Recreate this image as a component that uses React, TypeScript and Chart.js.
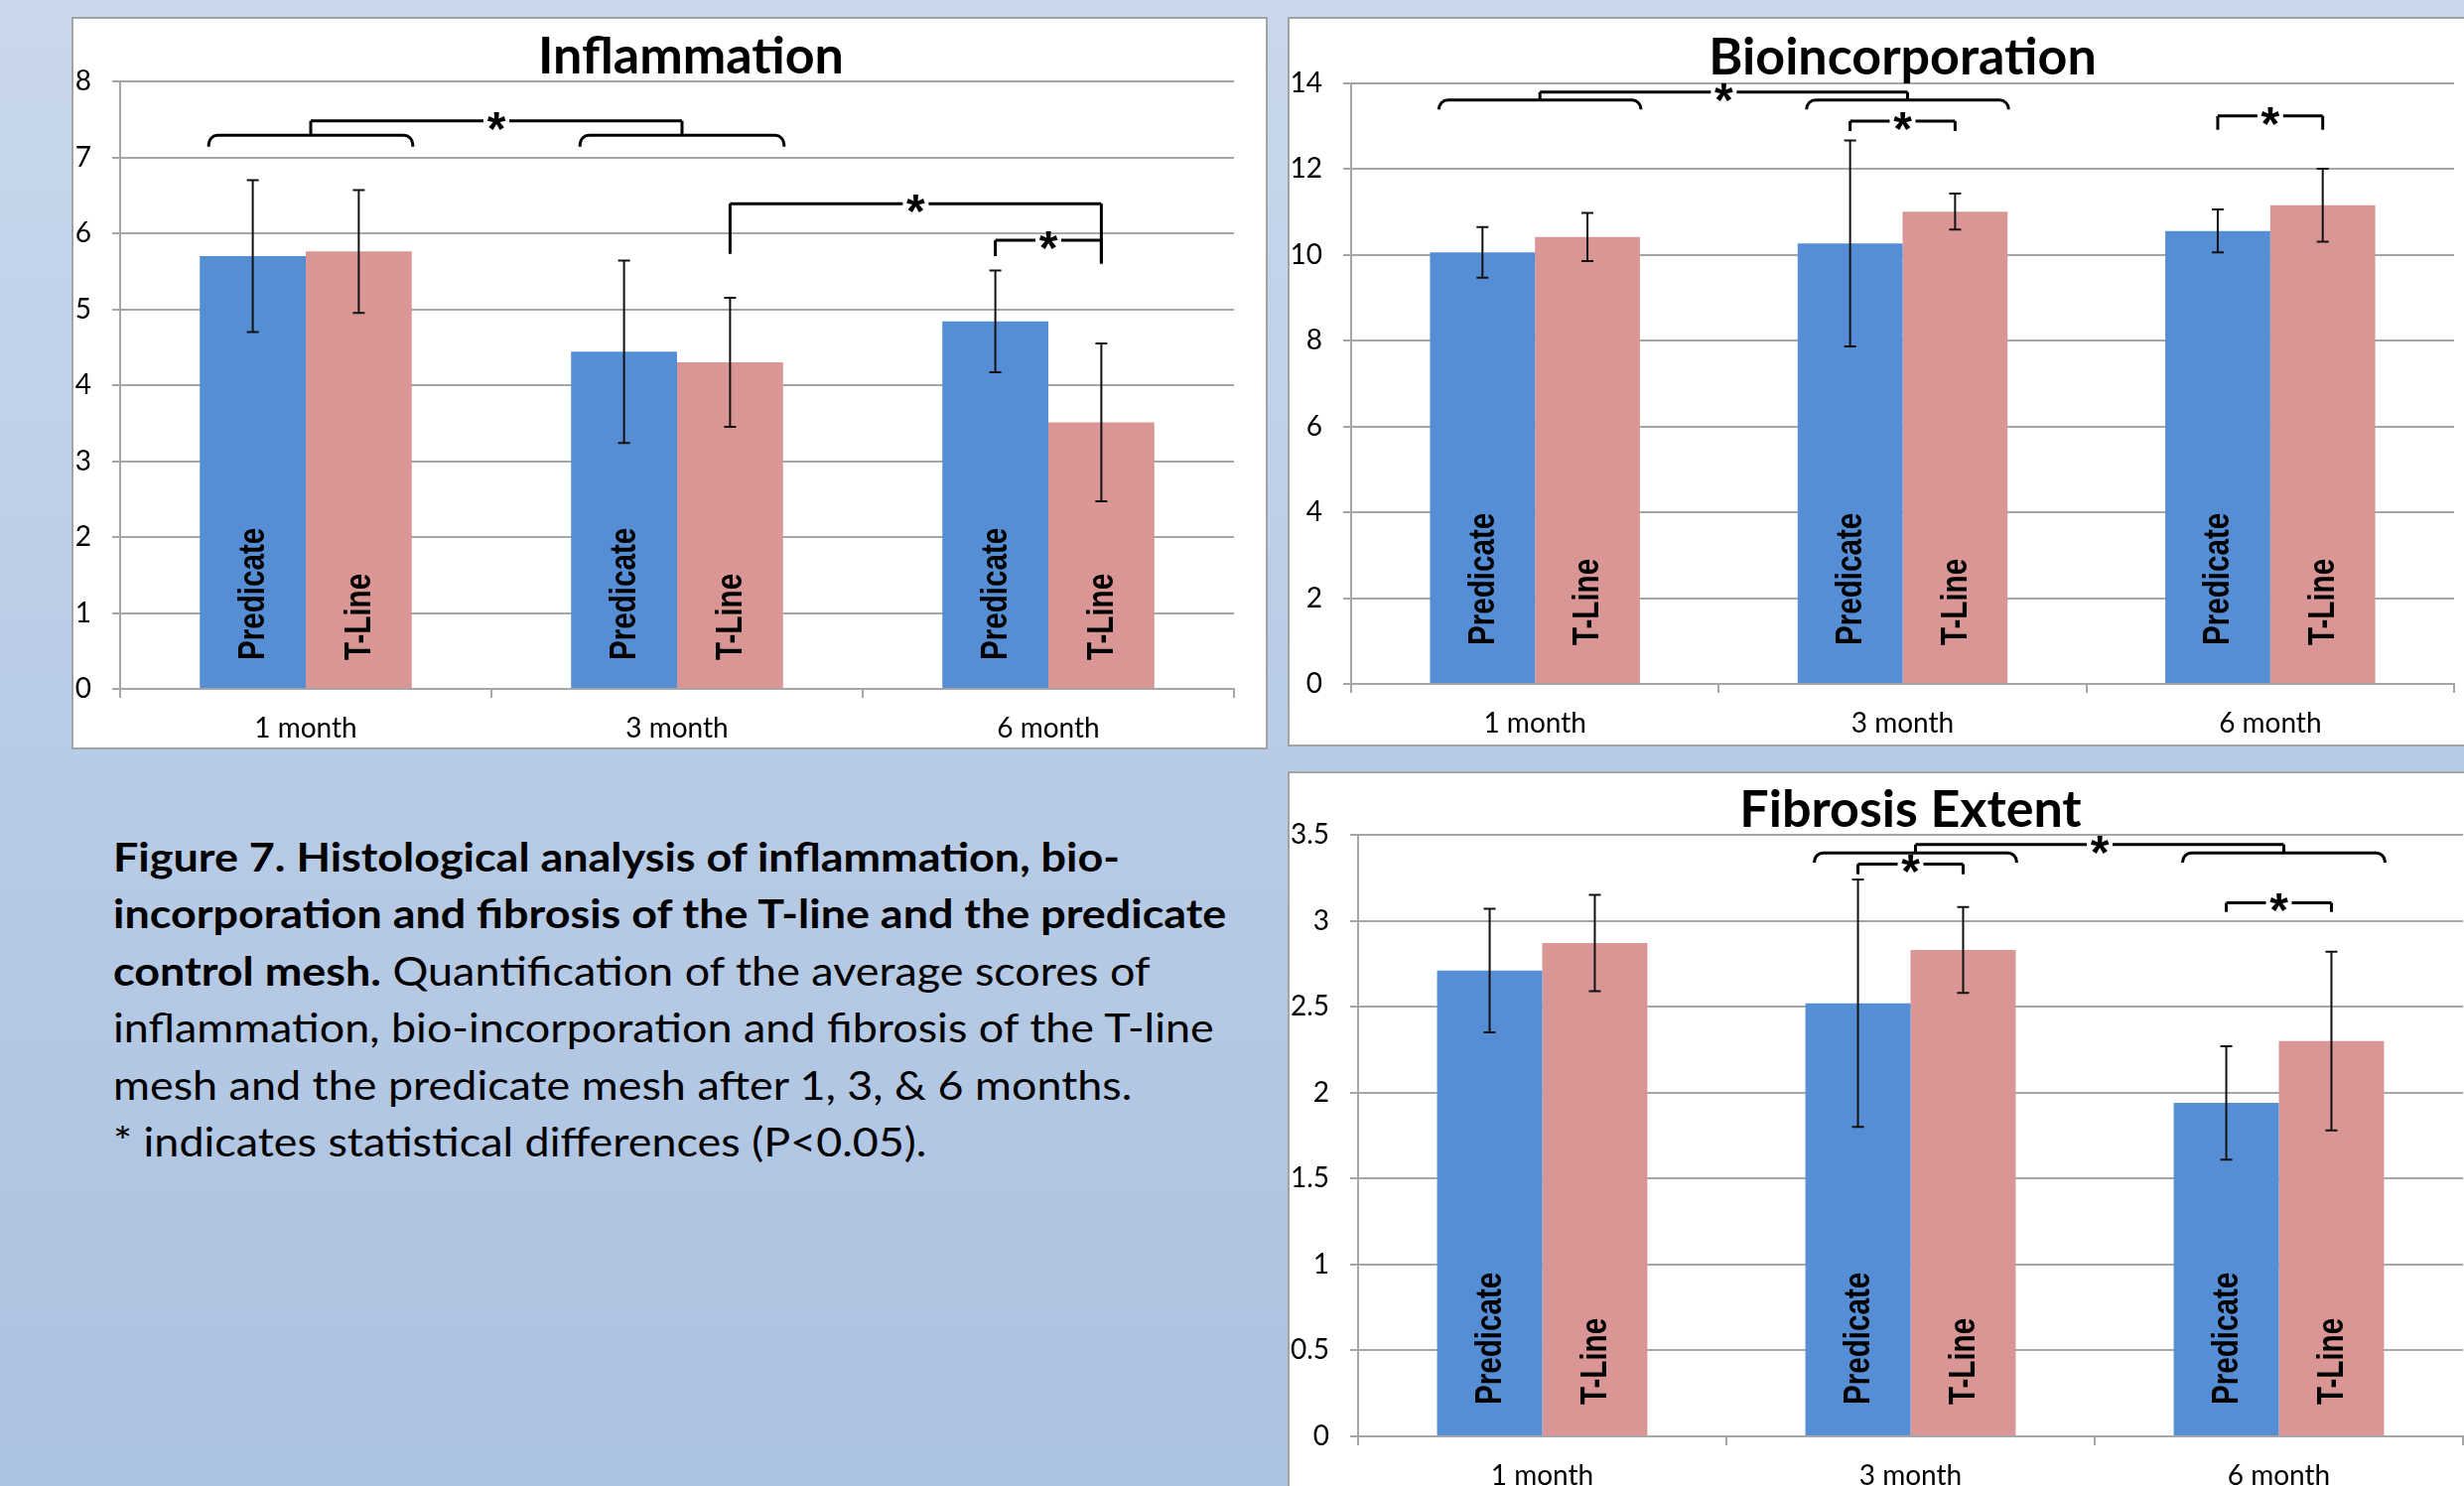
import React, { useEffect, useRef } from 'react';
import { Chart, registerables } from 'chart.js';

Chart.register(...registerables);

// ---------------- data ----------------
const categories = ['1 month', '3 month', '6 month'];
const seriesNames = ['Predicate', 'T-Line'];
const seriesColors = ['#558ED5', '#D99694'];

const inflammationPredicate = [5.7, 4.44, 4.84];
const inflammationPredicateErr = [1.0, 1.2, 0.67];
const inflammationTLine = [5.76, 4.3, 3.51];
const inflammationTLineErr = [0.81, 0.85, 1.04];
const inflammationTicks = [0, 1, 2, 3, 4, 5, 6, 7, 8];

const bioPredicate = [10.06, 10.27, 10.56];
const bioPredicateErr = [0.59, 2.4, 0.5];
const bioTLine = [10.42, 11.01, 11.16];
const bioTLineErr = [0.56, 0.42, 0.85];
const bioTicks = [0, 2, 4, 6, 8, 10, 12, 14];

const fibPredicate = [2.71, 2.52, 1.94];
const fibPredicateErr = [0.36, 0.72, 0.33];
const fibTLine = [2.87, 2.83, 2.3];
const fibTLineErr = [0.28, 0.25, 0.52];
const fibTicks = [0, 0.5, 1, 1.5, 2, 2.5, 3, 3.5];

// significance marks (data coordinates): braces over a category, links between braces, pair brackets between bars
const inflammationBraces = [{ cat: 0, y: 7.29, yEnd: 7.14 }, { cat: 1, y: 7.29, yEnd: 7.14 }];
const inflammationLinks = [{ from: 0, to: 1, y: 7.48 }];
const inflammationPairs = [
  { a: [1, 1], b: [2, 1], y: 6.39, aEnd: 5.73, bEnd: 5.6 },
  { a: [2, 0], b: [2, 1], y: 5.91, aEnd: 5.7, bEnd: 5.6 },
];

const bioBraces = [{ cat: 0, y: 13.61, yEnd: 13.39 }, { cat: 1, y: 13.61, yEnd: 13.39 }];
const bioLinks = [{ from: 0, to: 1, y: 13.8 }];
const bioPairs = [
  { a: [1, 0], b: [1, 1], y: 13.12, aEnd: 12.89, bEnd: 12.89 },
  { a: [2, 0], b: [2, 1], y: 13.24, aEnd: 12.92, bEnd: 12.92 },
];

const fibBraces = [{ cat: 1, y: 3.395, yEnd: 3.338 }, { cat: 2, y: 3.395, yEnd: 3.338 }];
const fibLinks = [{ from: 0, to: 1, y: 3.444 }];
const fibPairs = [
  { a: [1, 0], b: [1, 1], y: 3.33, aEnd: 3.27, bEnd: 3.27 },
  { a: [2, 0], b: [2, 1], y: 3.105, aEnd: 3.051, bEnd: 3.051 },
];

const captionBold = [
  'Figure 7. Histological analysis of inflammation, bio-',
  'incorporation and fibrosis of the T-line and the predicate',
  'control mesh.',
];
const captionPlain = [
  ' Quantification of the average scores of',
  'inflammation, bio-incorporation and fibrosis of the T-line',
  'mesh and the predicate mesh after 1, 3, & 6 months.',
  '* indicates statistical differences (P<0.05).',
];

// ---------------- chart configs ----------------
const panels = [
  {
    key: 'infl',
    title: 'Inflammation',
    pred: inflammationPredicate, predErr: inflammationPredicateErr,
    tl: inflammationTLine, tlErr: inflammationTLineErr,
    ticks: inflammationTicks,
    braces: inflammationBraces, links: inflammationLinks, pairs: inflammationPairs,
    box: { left: 72, top: 17, width: 1205, height: 738 },
    canvas: { width: 1201, height: 734 },
    padTop: 63, padRight: 32, axisWidth: 47, xAxisHeight: 59,
    titleBaseline: 55, titleDx: 14, labelOffset: 28,
  },
  {
    key: 'bio',
    title: 'Bioincorporation',
    pred: bioPredicate, predErr: bioPredicateErr,
    tl: bioTLine, tlErr: bioTLineErr,
    ticks: bioTicks,
    braces: bioBraces, links: bioLinks, pairs: bioPairs,
    box: { left: 1297, top: 17, width: 1200, height: 735 },
    canvas: { width: 1196, height: 731 },
    padTop: 65, padRight: 23, axisWidth: 62, xAxisHeight: 61,
    titleBaseline: 56, titleDx: 0, labelOffset: 38,
  },
  {
    key: 'fib',
    title: 'Fibrosis Extent',
    pred: fibPredicate, predErr: fibPredicateErr,
    tl: fibTLine, tlErr: fibTLineErr,
    ticks: fibTicks,
    braces: fibBraces, links: fibLinks, pairs: fibPairs,
    box: { left: 1297, top: 777, width: 1200, height: 740 },
    canvas: { width: 1196, height: 728 },
    padTop: 62, padRight: 14, axisWidth: 69, xAxisHeight: 60,
    titleBaseline: 54, titleDx: 0, labelOffset: 31,
  },
];

const GRID = '#a6a6a6';
const FONT = 'Lato, "Open Sans", sans-serif';

function drawStar(ctx: CanvasRenderingContext2D, x: number, yLine: number) {
  ctx.save();
  ctx.font = 'bold 48px "Liberation Sans", Arial, sans-serif';
  ctx.textAlign = 'center';
  ctx.textBaseline = 'alphabetic';
  const m = ctx.measureText('*');
  const asc = m.actualBoundingBoxAscent;
  const desc = m.actualBoundingBoxDescent;
  ctx.fillStyle = '#000';
  ctx.fillText('*', x, yLine + (asc - desc) / 2);
  ctx.restore();
}

function hLineWithStar(ctx: CanvasRenderingContext2D, x1: number, x2: number, y: number) {
  const mid = (x1 + x2) / 2;
  const gap = 13;
  ctx.beginPath();
  ctx.moveTo(x1, y);
  ctx.lineTo(mid - gap, y);
  ctx.moveTo(mid + gap, y);
  ctx.lineTo(x2, y);
  ctx.stroke();
  drawStar(ctx, mid, y);
}

function makePlugin(p: any) {
  return {
    id: 'extras_' + p.key,
    afterDatasetsDraw(chart: any) {
      const ctx: CanvasRenderingContext2D = chart.ctx;
      const ys = chart.scales.y;
      const values = [p.pred, p.tl];
      const errs = [p.predErr, p.tlErr];
      ctx.save();

      // in-bar rotated labels
      ctx.fillStyle = '#000';
      ctx.font = 'bold 37px "Liberation Sans", Arial, sans-serif';
      ctx.textAlign = 'left';
      ctx.textBaseline = 'middle';
      for (let d = 0; d < 2; d++) {
        const meta = chart.getDatasetMeta(d);
        meta.data.forEach((bar: any) => {
          ctx.save();
          ctx.translate(bar.x, bar.base - p.labelOffset);
          ctx.rotate(-Math.PI / 2);
          ctx.scale(0.8, 1);
          ctx.fillText(seriesNames[d], 0, 1);
          ctx.restore();
        });
      }

      // error bars
      ctx.strokeStyle = '#111';
      ctx.lineWidth = 2;
      for (let d = 0; d < 2; d++) {
        const meta = chart.getDatasetMeta(d);
        meta.data.forEach((bar: any, i: number) => {
          const v = values[d][i];
          const e = errs[d][i];
          const yt = ys.getPixelForValue(v + e);
          const yb = ys.getPixelForValue(v - e);
          ctx.beginPath();
          ctx.moveTo(bar.x, yt);
          ctx.lineTo(bar.x, yb);
          ctx.moveTo(bar.x - 6, yt);
          ctx.lineTo(bar.x + 6, yt);
          ctx.moveTo(bar.x - 6, yb);
          ctx.lineTo(bar.x + 6, yb);
          ctx.stroke();
        });
      }

      // significance brackets
      ctx.strokeStyle = '#000';
      ctx.lineWidth = 3;
      ctx.lineJoin = 'miter';
      const barAt = (cat: number, d: number) => chart.getDatasetMeta(d).data[cat];
      const braceCenters: { x: number; y: number }[] = [];
      p.braces.forEach((b: any) => {
        const pb = barAt(b.cat, 0);
        const tb = barAt(b.cat, 1);
        const x1 = pb.x - pb.width / 2 + 9;
        const x2 = tb.x + tb.width / 2 + 1;
        const yT = ys.getPixelForValue(b.y);
        const yE = ys.getPixelForValue(b.yEnd);
        const r = Math.min(9, yE - yT);
        ctx.beginPath();
        ctx.moveTo(x1, yE);
        ctx.arcTo(x1, yT, x1 + r, yT, r);
        ctx.lineTo(x2 - r, yT);
        ctx.arcTo(x2, yT, x2, yE, r);
        ctx.lineTo(x2, yE);
        ctx.stroke();
        braceCenters.push({ x: (x1 + x2) / 2, y: yT });
      });
      p.links.forEach((l: any) => {
        const a = braceCenters[l.from];
        const b = braceCenters[l.to];
        const y = ys.getPixelForValue(l.y);
        ctx.beginPath();
        ctx.moveTo(a.x, a.y);
        ctx.lineTo(a.x, y);
        ctx.moveTo(b.x, b.y);
        ctx.lineTo(b.x, y);
        ctx.stroke();
        hLineWithStar(ctx, a.x, b.x, y);
      });
      p.pairs.forEach((q: any) => {
        const ba = barAt(q.a[0], q.a[1]);
        const bb = barAt(q.b[0], q.b[1]);
        const y = ys.getPixelForValue(q.y);
        ctx.beginPath();
        ctx.moveTo(ba.x, ys.getPixelForValue(q.aEnd));
        ctx.lineTo(ba.x, y);
        ctx.moveTo(bb.x, ys.getPixelForValue(q.bEnd));
        ctx.lineTo(bb.x, y);
        ctx.stroke();
        hLineWithStar(ctx, ba.x, bb.x, y);
      });

      ctx.restore();
    },
    afterDraw(chart: any) {
      const ctx: CanvasRenderingContext2D = chart.ctx;
      const ca = chart.chartArea;
      ctx.save();
      ctx.fillStyle = '#000';
      ctx.font = 'bold 52px ' + FONT;
      ctx.textAlign = 'center';
      ctx.textBaseline = 'alphabetic';
      ctx.fillText(p.title, (ca.left + ca.right) / 2 + p.titleDx, p.titleBaseline);
      ctx.restore();
    },
  };
}

function Panel({ p }: { p: any }) {
  const ref = useRef<HTMLCanvasElement | null>(null);
  useEffect(() => {
    const canvas = ref.current;
    if (!canvas) return;
    const chart = new Chart(canvas, {
      type: 'bar',
      data: {
        labels: categories,
        datasets: [
          { label: seriesNames[0], data: p.pred, backgroundColor: seriesColors[0], categoryPercentage: 0.571, barPercentage: 1.0 },
          { label: seriesNames[1], data: p.tl, backgroundColor: seriesColors[1], categoryPercentage: 0.571, barPercentage: 1.0 },
        ],
      },
      options: {
        animation: false,
        responsive: false,
        maintainAspectRatio: false,
        devicePixelRatio: 1,
        layout: { padding: { top: p.padTop, right: p.padRight, left: 0, bottom: 0 } },
        plugins: { legend: { display: false }, title: { display: false }, tooltip: { enabled: false } },
        scales: {
          x: {
            grid: { display: true, drawOnChartArea: false, drawTicks: true, tickLength: 9, color: GRID, lineWidth: 2, offset: true },
            border: { display: true, color: GRID, width: 2 },
            ticks: { color: '#000', font: { family: FONT, size: 28 }, padding: 14, maxRotation: 0 },
            afterFit: (s: any) => { s.height = p.xAxisHeight; },
          },
          y: {
            min: p.ticks[0],
            max: p.ticks[p.ticks.length - 1],
            afterBuildTicks: (s: any) => { s.ticks = p.ticks.map((v: number) => ({ value: v })); },
            grid: { color: GRID, lineWidth: 2, tickLength: 8, drawTicks: true },
            border: { display: true, color: GRID, width: 2 },
            ticks: {
              color: '#000',
              font: { family: FONT, size: 28 },
              padding: 21,
              callback: (v: any) => String(Number(v)),
            },
            afterFit: (s: any) => { s.width = p.axisWidth; },
          },
        },
      },
      plugins: [makePlugin(p)],
    } as any);
    return () => chart.destroy();
  }, [p]);
  return (
    <div
      style={{
        position: 'absolute',
        left: p.box.left,
        top: p.box.top,
        width: p.box.width,
        height: p.box.height,
        boxSizing: 'border-box',
        border: '2px solid #a3a3a3',
        background: '#ffffff',
        overflow: 'hidden',
      }}
    >
      <canvas
        ref={ref}
        width={p.canvas.width}
        height={p.canvas.height}
        style={{ position: 'absolute', left: 0, top: 0, width: p.canvas.width, height: p.canvas.height }}
      />
    </div>
  );
}

export default function App() {
  return (
    <div
      style={{
        position: 'fixed',
        left: 0,
        top: 0,
        width: 2482,
        height: 1497,
        overflow: 'hidden',
        background: 'linear-gradient(to bottom, #c9d8ec 0%, #b9cce6 50%, #abc2e0 100%)',
      }}
    >
      {panels.map((p) => (
        <Panel key={p.key} p={p} />
      ))}
      <div
        style={{
          position: 'absolute',
          left: 114,
          top: 834,
          fontFamily: FONT,
          fontSize: 41,
          lineHeight: '57.4px',
          color: '#000',
          whiteSpace: 'nowrap',
          transform: 'scaleX(1.095)',
          transformOrigin: '0 0',
        }}
      >
        <b>{captionBold[0]}</b>
        <br />
        <b>{captionBold[1]}</b>
        <br />
        <b>{captionBold[2]}</b>
        {captionPlain[0]}
        <br />
        {captionPlain[1]}
        <br />
        {captionPlain[2]}
        <br />
        {captionPlain[3]}
      </div>
    </div>
  );
}
